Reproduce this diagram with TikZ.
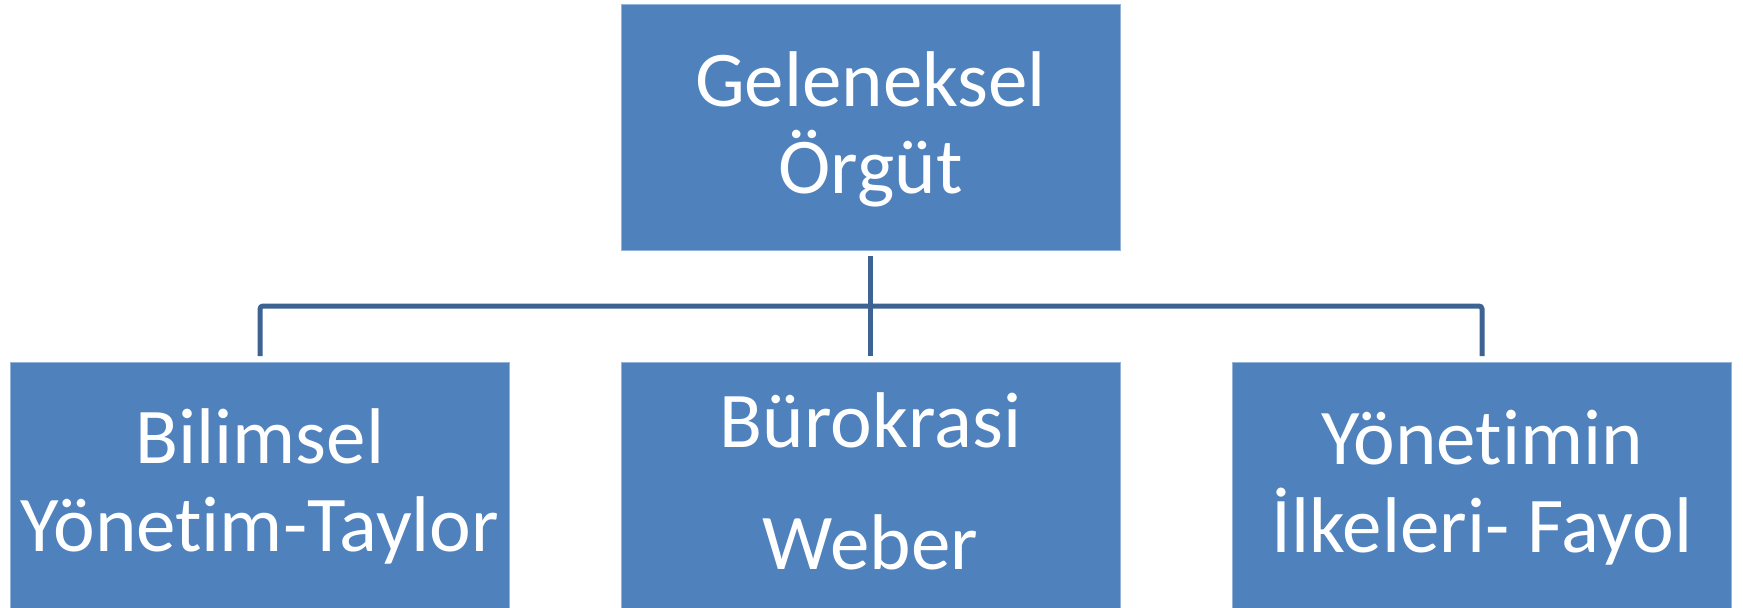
\documentclass[tikz,border=0pt]{standalone}
\usepackage{fontspec}
\setmainfont{Carlito}[Ligatures={NoCommon,NoRare,NoDiscretionary}]
\definecolor{boxblue}{HTML}{4F81BD}
\definecolor{linkblue}{HTML}{3D6393}
\begin{document}
\begin{tikzpicture}[x=0.5pt,y=-0.5pt,
  box/.style={rectangle,fill=boxblue,draw=boxblue!60!white,line width=0.3pt,inner sep=0pt,outer sep=0pt,minimum width=249.5pt},
  topbox/.style={box,minimum height=123pt},
  lowbox/.style={box,minimum height=140pt},
  lbl/.style={anchor=base,text=white,inner sep=0pt,font=\fontsize{39.5pt}{43.5pt}\selectfont},
  conn/.style={draw=linkblue,line width=2.5pt}]
\clip (0,0) rectangle (1743,607);
\useasboundingbox (0,0) rectangle (1743,607);
% boxes
\node[topbox] (top) at (870.5,127) {};
\node[lowbox,anchor=north] (left) at (260,362) {};
\node[lowbox,anchor=north] (mid) at (870.5,362) {};
\node[lowbox,anchor=north] (right) at (1482,362) {};
% texts
\node[lbl] (t1) at (870.5,106) {Geleneksel};
\node[lbl] (t2) at (870.5,193) {Örgüt};
\node[lbl] (l1) at (260,463) {Bilimsel};
\node[lbl] (l2) at (260,551) {Yönetim-Taylor};
\node[lbl] (m1) at (870.5,447) {Bürokrasi};
\node[lbl] (m2) at (870.5,569) {Weber};
\node[lbl] (r1) at (1482,464) {Yönetimin};
\node[lbl] (r2) at (1482,552) {İlkeleri- Fayol};
% connectors
\coordinate (hy) at (870,306);
\draw[conn,shorten <=3pt,shorten >=3pt] (top.south) -- (mid.north);
\draw[conn,rounded corners=1.5pt,shorten <=3pt,shorten >=3pt]
  (left.north) -- (left.north |- hy) -- (right.north |- hy) -- (right.north);
\end{tikzpicture}
\end{document}
